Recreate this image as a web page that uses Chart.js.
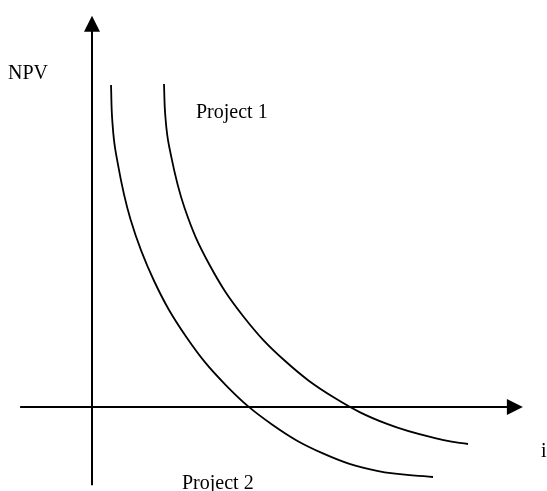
<!DOCTYPE html>
<html>
<head>
<meta charset="utf-8">
<script src="https://cdn.jsdelivr.net/npm/chart.js"></script>
<style>
    html, body { margin: 0; padding: 0; background: #fff; }
    #wrap { width: 547px; height: 491px; position: relative; }
</style>
</head>
<body>
<div id="wrap"><canvas id="npvCanvas"></canvas></div>
<script>
// NPV profiles (i on x, NPV on y, arbitrary units)
const project1I   = [1.582, 1.611, 1.697, 2.033, 2.585, 3.332, 4.251, 5.319, 6.499, 7.758, 8.264];
const project1NPV = [7.936, 7.160, 6.393, 4.894, 3.489, 2.219, 1.123, 0.233, -0.423, -0.823, -0.909];

const project2I   = [0.418, 0.444, 0.525, 0.844, 1.365, 2.073, 2.945, 3.956, 5.075, 6.266, 7.495];
const project2NPV = [7.912, 7.071, 6.238, 4.617, 3.096, 1.720, 0.533, -0.430, -1.140, -1.572, -1.720];

// axis extents in data units: [start, arrow tip]
const iAxisRange   = [-1.58, 9.47];
const npvAxisRange = [-1.92, 9.61];

const toPoints = (xs, ys) => xs.map((x, k) => ({ x: x, y: ys[k] }));

// draws the two arrowed axes and the hand-placed labels
const sketchAxes = {
    id: 'sketchAxes',
    beforeDatasetsDraw(chart) {
        const ctx = chart.ctx;
        const xs = chart.scales.x, ys = chart.scales.y;
        const x0 = xs.getPixelForValue(0), y0 = ys.getPixelForValue(0);
        const xa = xs.getPixelForValue(iAxisRange[0]), xb = xs.getPixelForValue(iAxisRange[1]);
        const ya = ys.getPixelForValue(npvAxisRange[0]), yb = ys.getPixelForValue(npvAxisRange[1]);

        ctx.save();
        ctx.strokeStyle = '#000';
        ctx.fillStyle = '#000';
        ctx.lineWidth = 2;

        ctx.beginPath();
        ctx.moveTo(xa, y0);
        ctx.lineTo(xb - 10, y0);
        ctx.moveTo(x0, ya);
        ctx.lineTo(x0, yb + 10);
        ctx.stroke();

        // arrow heads
        ctx.beginPath();
        ctx.moveTo(xb, y0);
        ctx.lineTo(xb - 16, y0 - 8);
        ctx.lineTo(xb - 16, y0 + 8);
        ctx.closePath();
        ctx.fill();

        ctx.beginPath();
        ctx.moveTo(x0, yb);
        ctx.lineTo(x0 - 8, yb + 16);
        ctx.lineTo(x0 + 8, yb + 16);
        ctx.closePath();
        ctx.fill();

        ctx.font = '20px "Liberation Serif", "Times New Roman", serif';
        ctx.textBaseline = 'alphabetic';
        ctx.textAlign = 'left';
        ctx.fillText('NPV', 8, 79);
        ctx.fillText('Project 1', 196, 118);
        ctx.fillText('Project 2', 182, 489);
        ctx.fillText('i', 541, 457);
        ctx.restore();
    }
};

const curveStyle = {
    borderColor: '#000',
    borderWidth: 1.8,
    pointRadius: 0,
    fill: false,
    showLine: true,
    tension: 0.4
};

new Chart(document.getElementById('npvCanvas'), {
    type: 'scatter',
    data: {
        datasets: [
            Object.assign({ label: 'Project 1', data: toPoints(project1I, project1NPV) }, curveStyle),
            Object.assign({ label: 'Project 2', data: toPoints(project2I, project2NPV) }, curveStyle)
        ]
    },
    options: {
        responsive: true,
        maintainAspectRatio: false,
        animation: false,
        layout: { padding: 0 },
        scales: {
            x: { type: 'linear', min: -2.022, max: 10, display: false },
            y: { type: 'linear', min: -2.064, max: 10, display: false }
        },
        plugins: {
            legend: { display: false },
            tooltip: { enabled: false }
        }
    },
    plugins: [sketchAxes]
});
</script>
</body>
</html>
